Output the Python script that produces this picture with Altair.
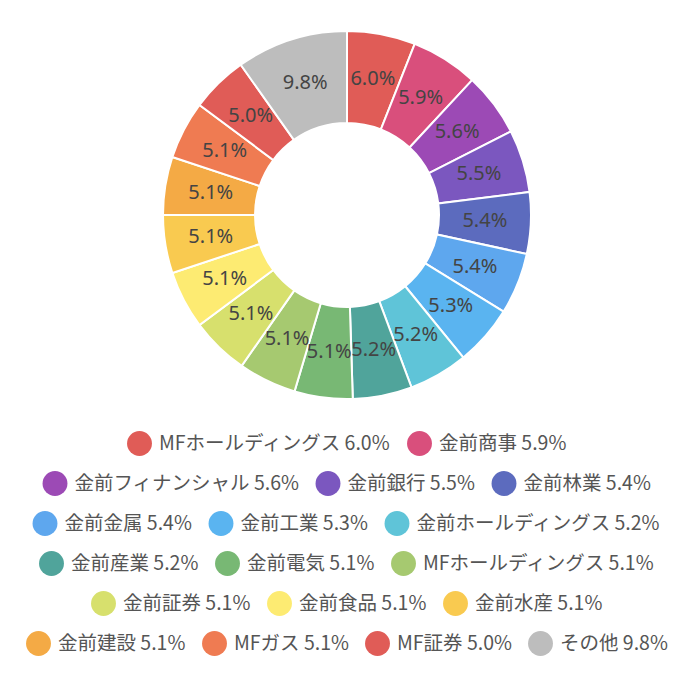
import altair as alt
import pandas as pd

names = ["MFホールディングス", "金前商事", "金前フィナンシャル", "金前銀行", "金前林業",
         "金前金属", "金前工業", "金前ホールディングス", "金前産業", "金前電気",
         "MFホールディングス", "金前証券", "金前食品", "金前水産", "金前建設",
         "MFガス", "MF証券", "その他"]
values = [6.0, 5.9, 5.6, 5.5, 5.4, 5.4, 5.3, 5.2, 5.2, 5.1,
          5.1, 5.1, 5.1, 5.1, 5.1, 5.1, 5.0, 9.8]
colors = ["#e05c57", "#d94f7c", "#9c4ab5", "#7b57bf", "#5c6bbe", "#5ea7ee",
          "#5ab4f0", "#5fc4d8", "#50a49b", "#78b874", "#a6c970", "#d7e06d",
          "#fdeb72", "#f9ca50", "#f4aa45", "#ef7b52", "#e05c57", "#bdbdbd"]
legend_rows = [2, 3, 3, 3, 3, 4]

df = pd.DataFrame({"name": names, "value": values, "order": list(range(len(names)))})
df["pct"] = df["value"].map(lambda v: f"{v:.1f}%")
df["legend"] = df["name"] + " " + df["pct"]
domain = list(df["legend"])

base = alt.Chart(df).encode(
    theta=alt.Theta("value:Q", stack=True),
    order=alt.Order("order:Q"),
)
arcs = base.mark_arc(outerRadius=184, innerRadius=92, stroke="white", strokeWidth=2).encode(
    color=alt.Color("legend:N", scale=alt.Scale(domain=domain, range=colors), legend=None)
)
labels = base.mark_text(radius=138, font="Noto Sans", fontSize=20, color="#444444").encode(
    text="pct:N"
)
donut = alt.layer(arcs, labels).properties(width=678, height=370)

rows = []
start = 0
for n in legend_rows:
    sub = df.iloc[start:start + n]
    row = alt.Chart(sub).mark_circle(size=0).encode(
        color=alt.Color(
            "legend:N",
            scale=alt.Scale(domain=list(sub["legend"]), range=colors[start:start + n]),
            legend=alt.Legend(
                orient="top", direction="horizontal", title=None,
                symbolType="circle", symbolSize=620, symbolStrokeWidth=0,
                symbolOpacity=1,
                labelFont="Noto Sans CJK JP", labelFontSize=19.5, labelColor="#555555",
                labelOffset=7, columnPadding=16, offset=0, padding=0, labelLimit=0,
            ),
        )
    ).properties(width=1, height=1)
    rows.append(row)
    start += n

legend_block = alt.vconcat(*rows, spacing=14, center=True).resolve_scale(
    color="independent").resolve_legend(color="independent")

chart = alt.vconcat(donut, legend_block, spacing=28, center=True).resolve_scale(
    color="independent").resolve_legend(color="independent").properties(
    padding={"top": 19, "left": 0, "right": 0, "bottom": 6},
    background="white",
).configure_view(stroke="transparent")

chart.save("out.html", embed_options={"renderer": "svg", "actions": False})
